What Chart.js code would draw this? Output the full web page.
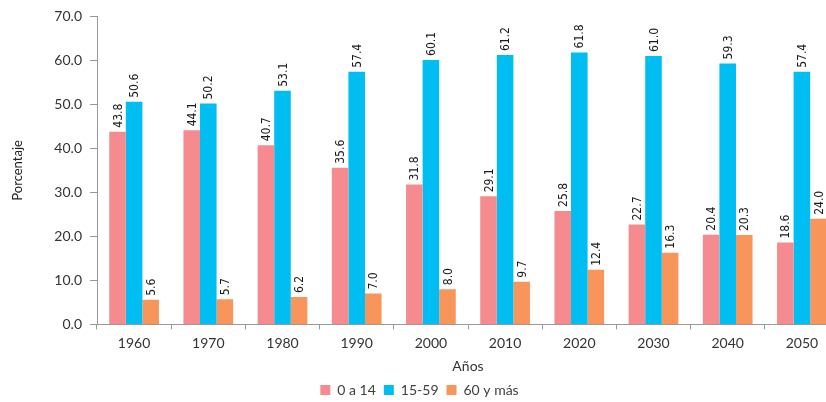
<!DOCTYPE html>
<html lang="es">
<head>
    <meta charset="UTF-8">
    <title>Población por grupos de edad</title>
    <style>
        html, body {
            margin: 0;
            padding: 0;
            background: #fff;
            overflow: hidden;
        }
        .chart-box {
            width: 845px;
            height: 402px;
        }
    </style>
    <script src="https://cdn.jsdelivr.net/npm/chart.js"></script>
</head>
<body>
    <div class="chart-box">
        <canvas id="edades"></canvas>
    </div>

    <script>
        const years = ['1960', '1970', '1980', '1990', '2000', '2010', '2020', '2030', '2040', '2050'];
        const ninos = [43.8, 44.1, 40.7, 35.6, 31.8, 29.1, 25.8, 22.7, 20.4, 18.6];
        const adultos = [50.6, 50.2, 53.1, 57.4, 60.1, 61.2, 61.8, 61.0, 59.3, 57.4];
        const mayores = [5.6, 5.7, 6.2, 7.0, 8.0, 9.7, 12.4, 16.3, 20.3, 24.0];
        const seriesNames = ['0 a 14', '15-59', '60 y más'];

        // rotated value labels above each bar
        const barLabels = {
            id: 'barLabels',
            afterDatasetsDraw(chart) {
                const ctx = chart.ctx;
                ctx.save();
                ctx.font = '12px "Liberation Sans Narrow", "DejaVu Sans Condensed", sans-serif';
                ctx.fillStyle = '#1a1a1a';
                ctx.textAlign = 'left';
                ctx.textBaseline = 'middle';
                chart.data.datasets.forEach((ds, i) => {
                    chart.getDatasetMeta(i).data.forEach((bar, j) => {
                        ctx.save();
                        ctx.translate(bar.x + 1, bar.y - 4);
                        ctx.rotate(-Math.PI / 2);
                        ctx.fillText(ds.data[j].toFixed(1), 0, 0);
                        ctx.restore();
                    });
                });
                ctx.restore();
            }
        };

        new Chart(document.getElementById('edades'), {
            type: 'bar',
            data: {
                labels: years,
                datasets: [
                    { label: seriesNames[0], data: ninos, backgroundColor: '#F58B8F' },
                    { label: seriesNames[1], data: adultos, backgroundColor: '#00BEF2' },
                    { label: seriesNames[2], data: mayores, backgroundColor: '#F7955B' }
                ]
            },
            options: {
                responsive: true,
                maintainAspectRatio: false,
                animation: false,
                layout: { padding: { top: 8, right: 6, bottom: -5, left: 0 } },
                datasets: {
                    bar: { categoryPercentage: 0.67, barPercentage: 1.0 }
                },
                plugins: {
                    legend: {
                        position: 'bottom',
                        labels: {
                            boxWidth: 10,
                            boxHeight: 10,
                            padding: 8,
                            color: '#404040',
                            font: { family: 'Lato, sans-serif', size: 14 }
                        }
                    },
                    tooltip: { enabled: false }
                },
                scales: {
                    x: {
                        grid: {
                            drawOnChartArea: false,
                            color: '#999',
                            tickLength: 5
                        },
                        border: { color: '#999' },
                        ticks: {
                            color: '#333',
                            padding: 6,
                            font: { family: 'Lato, sans-serif', size: 14 }
                        },
                        title: {
                            display: true,
                            text: 'Años',
                            color: '#333',
                            padding: { top: 0, bottom: 0 },
                            font: { family: 'Lato, sans-serif', size: 14 }
                        }
                    },
                    y: {
                        min: 0,
                        max: 70,
                        afterFit(scale) { scale.width = 97; },
                        grid: {
                            drawOnChartArea: false,
                            color: '#999',
                            tickLength: 7
                        },
                        border: { color: '#999' },
                        ticks: {
                            stepSize: 10,
                            color: '#333',
                            padding: 8,
                            font: { family: 'Lato, sans-serif', size: 14 },
                            callback: v => v.toFixed(1)
                        },
                        title: {
                            display: true,
                            text: 'Porcentaje',
                            color: '#222',
                            padding: { top: 10, bottom: 0 },
                            font: { family: 'Lato, sans-serif', size: 13 }
                        }
                    }
                }
            },
            plugins: [barLabels]
        });
    </script>
</body>
</html>
